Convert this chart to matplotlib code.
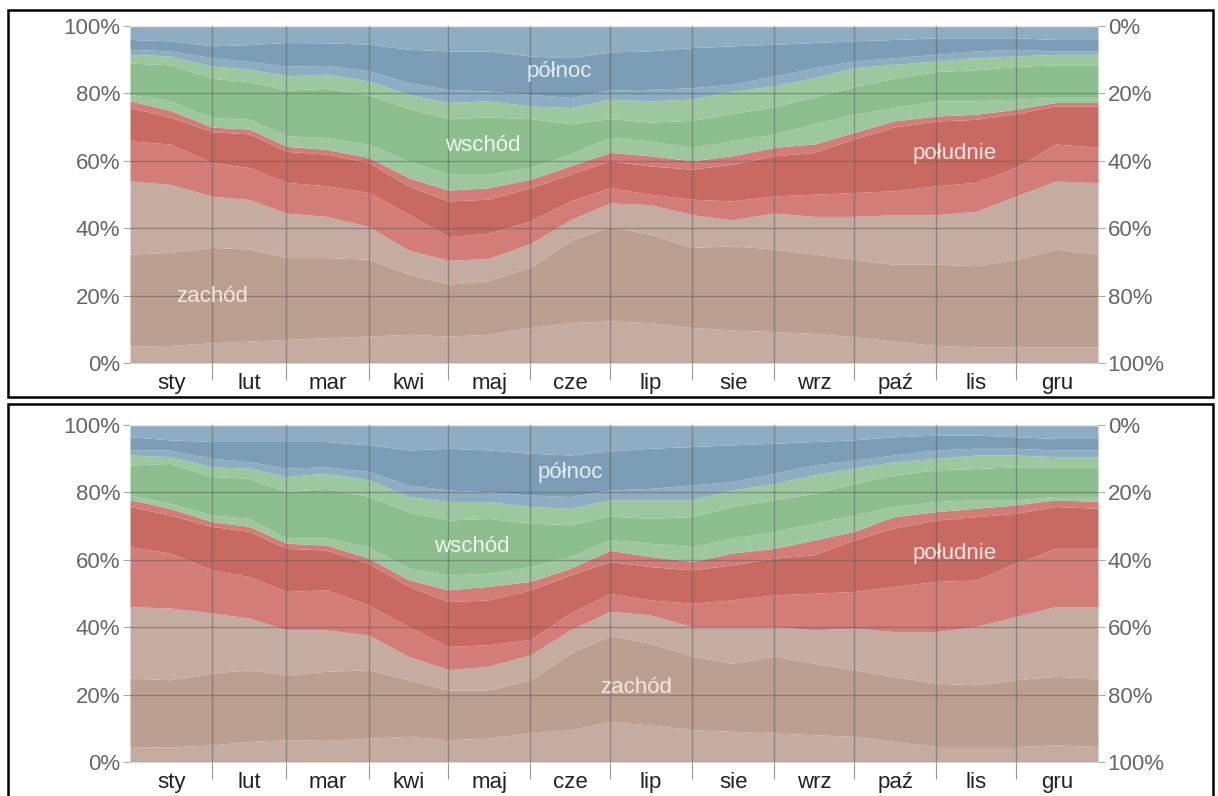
import matplotlib
matplotlib.use("Agg")
import matplotlib.pyplot as plt
from matplotlib.patches import Rectangle

plt.rcParams["font.family"] = ["Liberation Sans", "DejaVu Sans"]

# day of year for each reading
DAYS = [0, 15, 31, 45, 59, 74, 90, 105, 120, 135, 151, 166, 181,
        196, 212, 227, 243, 258, 273, 288, 304, 319, 334, 349, 365]

MONTH_STARTS = [0, 31, 59, 90, 120, 151, 181, 212, 243, 273, 304, 334, 365]
MONTHS = ["sty", "lut", "mar", "kwi", "maj", "cze",
          "lip", "sie", "wrz", "paź", "lis", "gru"]

# cumulative upper edges (%) of each band, top chart
TOP_ZACHOD_1 = [5, 5.2, 6, 6.5, 7, 7.5, 8, 8.5, 8, 8.5, 10.5, 12, 12.5,
                12, 10.5, 9.8, 9.3, 8.8, 7.8, 6.5, 5.2, 4.8, 4.8, 4.8, 4.8]
TOP_ZACHOD_2 = [32.3, 32.8, 34.3, 33.8, 31.3, 31.3, 30.8, 26.4, 23.4, 24.4, 28.4, 36.3, 40.5,
                38.2, 34.3, 34.8, 33.8, 32.3, 30.8, 29.3, 29.3, 28.9, 30.8, 33.8, 32.3]
TOP_ZACHOD_3 = [54, 53, 49.5, 48.5, 44.5, 43.5, 40.5, 33.5, 30.5, 31, 35.5, 42.5, 47.5,
                47, 44, 42.5, 44.5, 43.5, 43.5, 44, 44, 45, 49.5, 54, 53.5]
TOP_POLUDNIE_1 = [65.9, 65, 59.5, 58, 53.6, 52.6, 50.6, 44.2, 37.5, 38.5, 42.2, 48.1, 52,
                  50.1, 48.6, 48.1, 49.6, 50.1, 50.6, 51.1, 52.6, 53.6, 58, 65, 64]
TOP_POLUDNIE_2 = [75.8, 73, 68.6, 68, 62.8, 62, 59.5, 52.5, 48.1, 48.6, 52, 56, 60,
                  58.5, 57.5, 59, 61.5, 62.5, 66.5, 70, 71.8, 72.3, 74, 76.3, 76.3]
TOP_POLUDNIE_3 = [77.8, 75, 70, 69.4, 64.3, 63.4, 61, 55, 51.3, 52, 54.5, 58.5, 62.5,
                  61.5, 60, 61.5, 64, 65, 68.4, 71.8, 73.3, 73.8, 75.3, 77.3, 77.3]
TOP_WSCHOD_1 = [79.7, 77.8, 72.8, 72.3, 67.4, 66.9, 64.9, 60, 56, 56, 58, 62, 67,
                65.9, 63.9, 65.9, 67.9, 70.9, 73.8, 75.8, 77.8, 77.8, 78.3, 78.8, 78.8]
TOP_WSCHOD_2 = [89, 88.5, 84.5, 83.5, 81, 81.5, 79.5, 75.5, 72.5, 73, 72.5, 71, 72.5,
                71.5, 72, 74, 76, 79, 82, 84.5, 86.5, 87, 88, 88.5, 88.5]
TOP_WSCHOD_3 = [91.6, 91.1, 88.1, 87.2, 85.2, 85.7, 83.7, 79.7, 77.3, 77.8, 76.3, 75.8, 78.3,
                77.8, 78.3, 80.7, 82.2, 84.7, 87.6, 88.6, 89.6, 90.6, 91.1, 91.6, 91.6]
TOP_POLNOC_1 = [93.1, 92.6, 90.6, 89.5, 88.1, 88.3, 86.7, 83.2, 81.2, 80.7, 79.7, 78.8, 81,
                81.2, 81.7, 82.7, 85.2, 87.6, 89.6, 90.6, 91.6, 92.6, 93.1, 92.6, 92.6]
TOP_POLNOC_2 = [96, 95.6, 94.1, 94.5, 95.1, 95, 94.6, 93.1, 92.6, 92.6, 91.1, 90.6, 92.3,
                92.6, 93.6, 94.1, 94.6, 95.1, 95.6, 96, 96.5, 96.5, 96.5, 96, 96]

# cumulative upper edges (%) of each band, bottom chart
BOT_ZACHOD_1 = [4.6, 4.4, 5.1, 6.1, 6.6, 6.4, 7.1, 7.6, 6.6, 7.1, 8.6, 9.6, 12,
                11, 9.6, 9.1, 8.6, 8.1, 7.6, 6.1, 4.6, 4.6, 4.6, 5.1, 4.6]
BOT_ZACHOD_2 = [24.9, 24.4, 26.4, 27.4, 25.9, 26.9, 27.4, 24.4, 21.4, 21.4, 24.4, 32.3, 37.5,
                35.3, 31.4, 29.3, 31.4, 29.3, 27.4, 25.4, 23.4, 22.9, 24.4, 25.4, 24.9]
BOT_ZACHOD_3 = [46.1, 45.7, 44.2, 42.7, 39.2, 39.2, 37.7, 31.3, 27.4, 28.4, 31.8, 39.2, 44.7,
                43.7, 40.2, 40.2, 40.2, 39.2, 39.7, 38.7, 38.7, 40.2, 43.2, 46.1, 46.1]
BOT_POLUDNIE_1 = [63.9, 62, 57, 55, 50.6, 51.1, 46.6, 40.2, 34.3, 34.8, 36.3, 44.2, 50,
                  48.1, 47.1, 48.1, 49.6, 50.1, 50.6, 52.1, 53.6, 54, 59, 63.4, 63.4]
BOT_POLUDNIE_2 = [75.8, 73.3, 69.9, 68.4, 63.4, 62.9, 59, 52.1, 47.6, 48.1, 51.1, 55.5, 59.5,
                  58, 57, 58.5, 60.5, 61.5, 65.9, 69.4, 71.8, 72.8, 73.8, 75.8, 75.3]
BOT_POLUDNIE_3 = [77.8, 75.3, 71.3, 69.9, 64.9, 64.4, 60.5, 54.1, 51.1, 52.1, 53.6, 57.5, 62.8,
                  61, 59.5, 62, 63.4, 65.9, 68.4, 72.8, 74.3, 75.3, 76.3, 77.8, 77.3]
BOT_WSCHOD_1 = [79.2, 76.8, 73.3, 72.3, 66.4, 66.4, 63.9, 57.5, 55.5, 56, 58, 61, 66,
                64.9, 63.9, 66.4, 68.4, 70.9, 73.3, 75.8, 77.3, 77.8, 77.8, 78.8, 78.8]
BOT_WSCHOD_2 = [88.1, 88.6, 84.7, 84.2, 80.2, 81.2, 78.8, 74.3, 71.8, 72.3, 70.9, 70.4, 73,
                72.3, 72.8, 75.8, 77.8, 79.7, 82.7, 85.2, 86.7, 87.1, 87.6, 87.6, 87.6]
BOT_WSCHOD_3 = [91.1, 90.6, 87.6, 87.2, 84.7, 85.7, 83.7, 78.8, 77.3, 77.3, 75.8, 75.3, 77.8,
                77.8, 77.8, 80.7, 82.7, 85.2, 87.2, 89.1, 90.1, 91.1, 91.1, 90.6, 90.6]
BOT_POLNOC_1 = [92.6, 92.6, 90.1, 89.1, 87.2, 87.6, 86.2, 82.2, 80.7, 80.2, 79.2, 78.8, 80.7,
                81.2, 82.2, 83.2, 85.7, 88.1, 89.6, 91.1, 92.6, 93.1, 93.1, 92.6, 92.6]
BOT_POLNOC_2 = [96.5, 95.6, 95.1, 95.1, 95.1, 95.1, 94.1, 92.6, 93.1, 92.6, 91.6, 91.1, 92.3,
                93.1, 93.6, 94.1, 94.6, 95.1, 95.6, 96.5, 97, 97, 96.5, 96, 96]

BAND_COLORS = ["#c5aca0", "#bb9f91", "#c5aca0",
               "#d37d78", "#c96a62", "#d37d78",
               "#9dc89f", "#8dbf8e", "#9dc89f",
               "#8fadc2", "#7b9db5", "#8fadc2"]

TOP_LABELS = [("północ", 162, 86.4, "#e4edf3"), ("wschód", 133, 64.4, "#eef6ee"),
              ("południe", 311, 62.3, "#fbe4e4"), ("zachód", 31, 19.6, "#f6e6df")]
BOT_LABELS = [("północ", 166, 85.8, "#e4edf3"), ("wschód", 129, 63.8, "#eef6ee"),
              ("południe", 311, 62.0, "#fbe4e4"), ("zachód", 191, 22.0, "#f6e6df")]

W, H = 1218, 796
fig = plt.figure(figsize=(W / 100, H / 100), dpi=100)
fig.patch.set_facecolor("white")

# black frames around each panel
for (x0, y0, x1, y1) in [(8, 10, 1213, 397), (8, 404, 1213, 805)]:
    fig.patches.append(Rectangle((x0 / W, 1 - y1 / H), (x1 - x0) / W, (y1 - y0) / H,
                                 transform=fig.transFigure, fill=False,
                                 edgecolor="black", linewidth=1.8))


def draw_panel(top_px, bottom_px, edges, labels):
    ax = fig.add_axes([130 / W, 1 - bottom_px / H, 968 / W, (bottom_px - top_px) / H])
    lower = [0] * len(DAYS)
    for upper, color in zip(edges + [[100] * len(DAYS)], BAND_COLORS):
        ax.fill_between(DAYS, lower, upper, color=color, linewidth=0, zorder=1)
        lower = upper
    ax.set_xlim(0, 365)
    ax.set_ylim(0, 100)
    for s in ax.spines.values():
        s.set_visible(False)

    ax.set_yticks([0, 20, 40, 60, 80, 100])
    ax.set_yticklabels(["0%", "20%", "40%", "60%", "80%", "100%"])
    ax.tick_params(axis="y", length=5, color="#aaaaaa", labelcolor="#666666",
                   labelsize=16, pad=2)
    for y in [20, 40, 60, 80]:
        ax.axhline(y, color="#555555", alpha=0.45, linewidth=1, zorder=3)
    ax.axhline(0, color="#999999", linewidth=1, zorder=3)
    ax.axhline(100, color="#e6e6e6", linewidth=1, zorder=3)

    ax.set_xticks(MONTH_STARTS[1:-1])
    ax.set_xticklabels([])
    ax.tick_params(axis="x", which="major", length=12, color="#999999")
    for d in MONTH_STARTS[1:-1]:
        ax.axvline(d, color="#555555", alpha=0.45, linewidth=1, zorder=3)
    mids = [(a + b) / 2 for a, b in zip(MONTH_STARTS[:-1], MONTH_STARTS[1:])]
    ax.set_xticks(mids, minor=True)
    ax.set_xticklabels(MONTHS, minor=True)
    ax.tick_params(axis="x", which="minor", length=0, labelsize=16,
                   labelcolor="#222222", pad=7)

    right = ax.twinx()
    right.set_ylim(100, 0)
    right.set_yticks([0, 20, 40, 60, 80, 100])
    right.set_yticklabels(["0%", "20%", "40%", "60%", "80%", "100%"])
    right.tick_params(axis="y", length=5, color="#aaaaaa", labelcolor="#666666",
                      labelsize=16, pad=2)
    for s in right.spines.values():
        s.set_visible(False)

    for text, d, p, c in labels:
        ax.text(d, p, text, color=c, fontsize=16, ha="center", va="center", zorder=4)


draw_panel(26, 363,
           [TOP_ZACHOD_1, TOP_ZACHOD_2, TOP_ZACHOD_3,
            TOP_POLUDNIE_1, TOP_POLUDNIE_2, TOP_POLUDNIE_3,
            TOP_WSCHOD_1, TOP_WSCHOD_2, TOP_WSCHOD_3,
            TOP_POLNOC_1, TOP_POLNOC_2],
           TOP_LABELS)
draw_panel(425, 762,
           [BOT_ZACHOD_1, BOT_ZACHOD_2, BOT_ZACHOD_3,
            BOT_POLUDNIE_1, BOT_POLUDNIE_2, BOT_POLUDNIE_3,
            BOT_WSCHOD_1, BOT_WSCHOD_2, BOT_WSCHOD_3,
            BOT_POLNOC_1, BOT_POLNOC_2],
           BOT_LABELS)

fig.savefig("out.png", dpi=100)
